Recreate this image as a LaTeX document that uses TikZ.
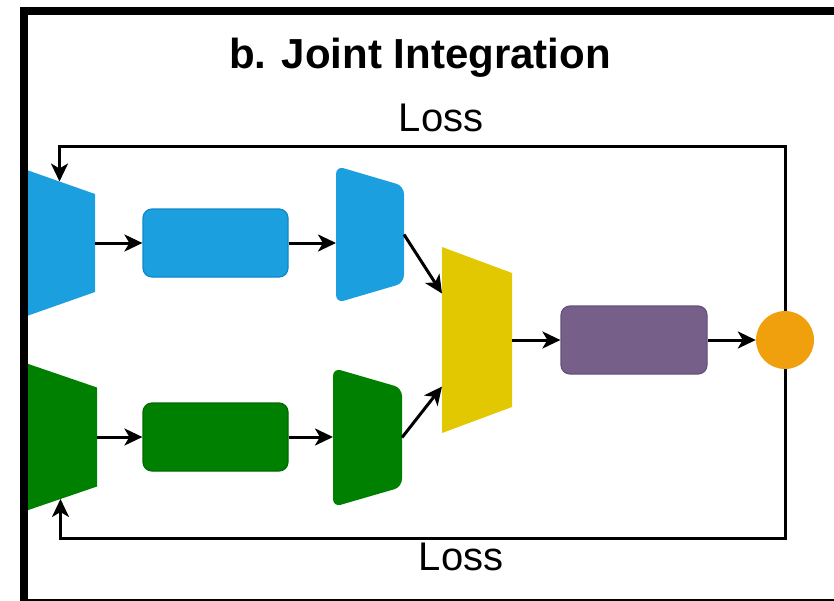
\documentclass[tikz,border=0pt]{standalone}
\usepackage{fontspec}
\setmainfont{Liberation Sans}
\usetikzlibrary{arrows.meta,calc}

\definecolor{encblue}{HTML}{1C9FDF}
\definecolor{encblueedge}{HTML}{0D88CA}
\definecolor{encgreen}{HTML}{008000}
\definecolor{encgreenedge}{HTML}{006A00}
\definecolor{fuseyellow}{HTML}{E1C800}
\definecolor{headpurple}{HTML}{766089}
\definecolor{headpurpleedge}{HTML}{66517A}
\definecolor{outorange}{HTML}{F0A00C}

% fill a block that narrows towards its right side
\newcommand\trapfill[4]{%
  \fill[#2,rounded corners=#4] (#1.north west) -- ([yshift=-#3]#1.north east)
    -- ([yshift=#3]#1.south east) -- (#1.south west) -- cycle;}

\begin{document}
\begin{tikzpicture}[x=1pt,y=-1pt,
  frame/.style={draw=none,inner sep=0pt,outer sep=0pt},
  block/.style={rounded corners=9pt,inner sep=0pt,line width=1.2pt,
                minimum width=145pt,minimum height=68pt},
  flow/.style={line width=3pt,-{Stealth[length=18pt,width=17pt,inset=5pt]}},
  loss/.style={line width=3pt,-{Stealth[length=18pt,width=17pt,inset=5pt]}},
  lbl/.style={anchor=base,font=\fontsize{40}{40}\selectfont}]
\useasboundingbox (0,0) rectangle (834,600);

\node[anchor=base,font=\bfseries\fontsize{42}{42}\selectfont] (title) at (420,68) {b. Joint Integration};

% placeholders giving each tapered block its extent
\node[frame,minimum width=71pt,minimum height=148pt] (encA) at (59.5,243) {};
\node[frame,minimum width=73pt,minimum height=149pt] (encB) at (60.5,437) {};
\node[frame,minimum width=68pt,minimum height=137pt] (decA) at (370,234.5) {};
\node[frame,minimum width=69pt,minimum height=139pt] (decB) at (367.5,437.5) {};
\node[frame,minimum width=70pt,minimum height=186pt] (fuse) at (477,340) {};

\trapfill{encA}{encblue}{25pt}{0pt}
\trapfill{encB}{encgreen}{25pt}{0pt}
\trapfill{decA}{encblue}{20pt}{8pt}
\trapfill{decB}{encgreen}{20pt}{8pt}
\trapfill{fuse}{fuseyellow}{26pt}{0pt}

% rounded blocks and output
\node[block,fill=encblue,draw=encblueedge] (rA) at (215.5,243) {};
\node[block,fill=encgreen,draw=encgreenedge] (rB) at (215.5,437) {};
\node[block,fill=headpurple,draw=headpurpleedge,minimum width=146pt] (head) at (634,340) {};
\node[circle,fill=outorange,inner sep=0pt,minimum size=58pt] (out) at (785,340) {};

% forward flow
\draw[flow] (encA.east) -- (rA.west);
\draw[flow] (rA.east) -- (rA.east -| decA.west);
\draw[flow] (encB.east) -- (rB.west);
\draw[flow] (rB.east) -- (rB.east -| decB.west);
\draw[flow] (decA.east) -- ($(fuse.north west)!0.25!(fuse.south west)$);
\draw[flow] (decB.east) -- ($(fuse.north west)!0.75!(fuse.south west)$);
\draw[flow] (fuse.east) -- (head.west);
\draw[flow] (head.east) -- (out.west);

% loss feedback
\coordinate (hitA) at ($(encA.north west)!0.5!([yshift=-25pt]encA.north east)$);
\coordinate (hitB) at ($(encB.south west)!0.5!([yshift=25pt]encB.south east)$);
\coordinate (topturn) at (hitA |- 0,146);
\coordinate (botturn) at (hitB |- 0,538);
\draw[loss] (out.north) |- (topturn) -- (hitA);
\draw[loss] (out.south) |- (botturn) -- (hitB);

\node[lbl] (lossA) at (441,131) {Loss};
\node[lbl] (lossB) at (461,570) {Loss};

% outer panel border, on top of the encoders it cuts
\draw[line width=8pt] (24,603) -- (24,11) -- (840,11) -- (840,603) -- cycle;
\end{tikzpicture}
\end{document}
